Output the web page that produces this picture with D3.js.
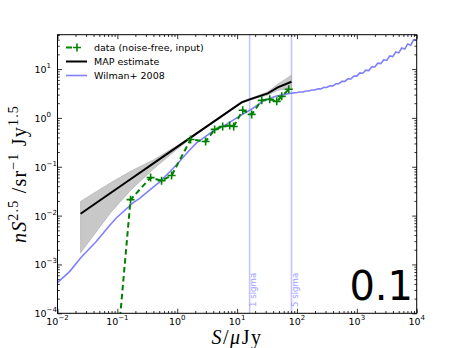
<!DOCTYPE html>
<html>
<head>
<meta charset="utf-8">
<script src="https://cdn.jsdelivr.net/npm/d3@7"></script>
<style>
body { margin: 0; background: #fff; }
svg { display: block; }
</style>
</head>
<body>
<script>
// values
var dataS = [0.095, 0.166, 0.359, 0.548, 0.805, 1.67, 2.98, 4.22, 5.74, 7.52, 8.77, 12.4, 17.5, 25.8, 35.1, 45.9, 55.7, 72.9];
var dataV = [1e-5, 0.0212, 0.060, 0.052, 0.066, 0.362, 0.329, 0.581, 0.668, 0.701, 0.668, 1.43, 1.18, 2.29, 2.40, 2.18, 2.76, 3.85];

var mapS = [0.0243, 0.077, 0.17, 0.4, 1.0, 2.0, 11.9, 16.3, 32.5, 47.8, 81];
var mapV = [0.0109, 0.029, 0.0567, 0.117, 0.255, 0.459, 2.08, 2.40, 3.18, 4.23, 5.5];
var mapLo = [0.00173, 0.0115, 0.034, 0.09, 0.23, 0.44, 2.0, 2.3, 2.95, 3.7, 4.0];
var mapHi = [0.0195, 0.047, 0.082, 0.138, 0.272, 0.475, 2.15, 2.5, 3.4, 4.9, 7.5];

var wilS = [0.01, 0.0159, 0.0249, 0.0444, 0.0741, 0.0959, 0.182, 0.235, 0.447, 0.508, 0.848, 1.10, 1.57, 2.08, 3.95, 6.62, 11.0, 17.3, 27.1, 45.4, 75.9,
  100, 112, 126, 141, 158, 178, 200, 224, 251, 282, 316, 355, 398, 447, 501, 562, 631, 708, 794, 891,
  1000, 1122, 1259, 1413, 1585, 1778, 1995, 2239, 2512, 2818, 3162, 3548, 3981, 4467, 5012, 5623, 6310, 7079, 7943, 8913, 10000];
var wilV = [4.25e-4, 7.14e-4, 1.41e-3, 2.95e-3, 6.3e-3, 8.93e-3, 0.0182, 0.0225, 0.043, 0.0485, 0.092, 0.130, 0.212, 0.304, 0.536, 0.736, 1.09, 1.50, 2.21, 2.80, 3.18,
  3.31, 3.40, 3.40, 3.56, 3.55, 3.73, 3.73, 3.95, 3.93, 4.22, 4.19, 4.54, 4.52, 5.00, 5.01, 5.61, 5.60, 6.31, 6.25, 7.18,
  7.16, 8.32, 8.20, 9.51, 9.33, 11.1, 11.0, 13.2, 12.9, 15.5, 15.0, 18.5, 18.0, 22.4, 21.4, 26.9, 25.7, 32.7, 30.9, 39.8, 38.9];

var sigmaS = [16.2, 81];
var sigmaLabels = ["1 sigma", "5 sigma"];

var xTickExp = [-2, -1, 0, 1, 2, 3, 4];
var yTickExp = [-4, -3, -2, -1, 0, 1];
var legendLabels = ["data (noise-free, input)", "MAP estimate", "Wilman+ 2008"];

var w = 463, h = 348;
var pL = 57.5, pR = 416.7, pT = 34.7, pB = 313.3;

var svg = d3.select("body").append("svg")
    .attr("width", w)
    .attr("height", h);

var x = d3.scaleLog().domain([1e-2, 1e4]).range([pL, pR]);
var y = d3.scaleLog().domain([1e-4, 50.5]).range([pB, pT]);

svg.append("clipPath").attr("id", "clip")
  .append("rect")
    .attr("x", pL).attr("y", pT)
    .attr("width", pR - pL).attr("height", pB - pT);

var plot = svg.append("g").attr("clip-path", "url(#clip)");

// sigma lines
plot.selectAll(".sig")
    .data(sigmaS)
    .enter()
    .append("line")
    .attr("x1", function(d){ return x(d); })
    .attr("x2", function(d){ return x(d); })
    .attr("y1", pT).attr("y2", pB)
    .style("stroke", "#c4c4ff")
    .style("stroke-width", 1.6);

svg.selectAll(".sigText")
    .data(sigmaS)
    .enter()
    .append("text")
    .attr("transform", function(d){ return "translate(" + (x(d) + 6.8) + "," + 307 + ") rotate(-90)"; })
    .style("font-family", "DejaVu Sans")
    .style("font-size", "8.6px")
    .style("fill", "#a0a0ff")
    .text(function(d, i){ return sigmaLabels[i]; });

// uncertainty band
var band = mapS.map(function(s, i){ return {s: s, lo: mapLo[i], hi: mapHi[i]}; });
plot.append("path")
    .datum(band)
    .attr("d", d3.area()
        .x(function(d){ return x(d.s); })
        .y0(function(d){ return y(d.lo); })
        .y1(function(d){ return y(d.hi); }))
    .style("fill", "#c8c8c8")
    .style("stroke", "#a8a8a8")
    .style("stroke-width", 0.6);

var line = d3.line()
    .x(function(d){ return x(d[0]); })
    .y(function(d){ return y(d[1]); });

// Wilman+ 2008
plot.append("path")
    .datum(d3.zip(wilS, wilV))
    .attr("d", line)
    .style("fill", "none")
    .style("stroke", "#8080ff")
    .style("stroke-width", 1.6);

// MAP estimate
plot.append("path")
    .datum(d3.zip(mapS, mapV))
    .attr("d", line)
    .style("fill", "none")
    .style("stroke", "#000")
    .style("stroke-width", 2);

// data
plot.append("path")
    .datum(d3.zip(dataS, dataV))
    .attr("d", line)
    .style("fill", "none")
    .style("stroke", "#008000")
    .style("stroke-width", 2)
    .style("stroke-dasharray", "5.5,3.5");

plot.selectAll(".pt")
    .data(d3.zip(dataS, dataV))
    .enter()
    .append("path")
    .attr("d", "M-4,0H4M0,-4V4")
    .attr("transform", function(d){ return "translate(" + x(d[0]) + "," + y(d[1]) + ")"; })
    .style("stroke", "#008000")
    .style("stroke-width", 1.6);

// axes: ticks inside on all four sides
function minors(lo, hi){
    var out = [];
    for (var e = lo; e < hi; e++) {
        for (var k = 2; k < 10; k++) out.push(k * Math.pow(10, e));
    }
    return out;
}
var xMaj = xTickExp.map(function(e){ return Math.pow(10, e); });
var yMaj = yTickExp.map(function(e){ return Math.pow(10, e); });
var xMin = minors(-2, 4);
var yMin = minors(-4, 2).filter(function(v){ return v <= 50.5; });

function addAxis(gen, tr, vals, size){
    svg.append("g")
        .attr("transform", tr)
        .call(gen.tickValues(vals).tickSize(size).tickFormat(""))
        .call(function(g){
            g.select(".domain").remove();
            g.selectAll("line").style("stroke", "#000").style("stroke-width", 0.8);
        });
}
addAxis(d3.axisBottom(x), "translate(0," + pB + ")", xMaj, -4.5);
addAxis(d3.axisBottom(x), "translate(0," + pB + ")", xMin, -2.3);
addAxis(d3.axisTop(x), "translate(0," + pT + ")", xMaj, -4.5);
addAxis(d3.axisTop(x), "translate(0," + pT + ")", xMin, -2.3);
addAxis(d3.axisLeft(y), "translate(" + pL + ",0)", yMaj, -4.5);
addAxis(d3.axisLeft(y), "translate(" + pL + ",0)", yMin, -2.3);
addAxis(d3.axisRight(y), "translate(" + pR + ",0)", yMaj, -4.5);
addAxis(d3.axisRight(y), "translate(" + pR + ",0)", yMin, -2.3);

svg.append("rect")
    .attr("x", pL).attr("y", pT)
    .attr("width", pR - pL).attr("height", pB - pT)
    .style("fill", "none")
    .style("stroke", "#000")
    .style("stroke-width", 1);

// tick labels
var xl = svg.selectAll(".xl")
    .data(xTickExp)
    .enter()
    .append("text")
    .attr("x", function(d){ return x(Math.pow(10, d)); })
    .attr("y", 325)
    .attr("text-anchor", "middle")
    .style("font-family", "DejaVu Sans")
    .style("font-size", "9.5px");
xl.append("tspan").text("10");
xl.append("tspan")
    .attr("dy", -5)
    .style("font-size", "7px")
    .text(function(d){ return String(d).replace("-", "\u2212"); });

var yl = svg.selectAll(".yl")
    .data(yTickExp)
    .enter()
    .append("text")
    .attr("x", 34.5)
    .attr("y", function(d){ return y(Math.pow(10, d)) + 4; })
    .style("font-family", "DejaVu Sans")
    .style("font-size", "9.5px");
yl.append("tspan").text("10");
yl.append("tspan")
    .attr("dy", -5)
    .style("font-size", "7px")
    .text(function(d){ return String(d).replace("-", "\u2212"); });

// axis titles
var xt = svg.append("text")
    .attr("x", 237)
    .attr("y", 344)
    .attr("text-anchor", "middle")
    .style("font-family", "Liberation Serif")
    .style("font-size", "20px")
    .style("letter-spacing", "1.5px");
xt.append("tspan").style("font-style", "italic").text("S");
xt.append("tspan").text("/");
xt.append("tspan").style("font-style", "italic").text("\u03bc");
xt.append("tspan").text("Jy");

var yt = svg.append("text")
    .attr("transform", "translate(26,174) rotate(-90)")
    .attr("text-anchor", "middle")
    .style("font-family", "Liberation Serif")
    .style("font-size", "20px")
    .style("letter-spacing", "1.2px");
yt.append("tspan").style("font-style", "italic").text("nS");
yt.append("tspan").attr("dy", -8).style("font-size", "14px").text("2.5");
yt.append("tspan").attr("dy", 8).text(" /sr");
yt.append("tspan").attr("dy", -8).style("font-size", "14px").text("\u22121");
yt.append("tspan").attr("dy", 8).text(" Jy");
yt.append("tspan").attr("dy", -8).style("font-size", "14px").text("1.5");

// big panel label
svg.append("text")
    .attr("x", 413)
    .attr("y", 299.5)
    .attr("text-anchor", "end")
    .style("font-family", "DejaVu Sans")
    .style("font-size", "40px")
    .text("0.1");

// legend
var leg = svg.append("g");
var ly = [47.5, 61.5, 75.5];
leg.append("line")
    .attr("x1", 66).attr("x2", 72).attr("y1", ly[0]).attr("y2", ly[0])
    .style("stroke", "#008000").style("stroke-width", 2);
leg.append("path")
    .attr("d", "M-4,0H4M0,-4V4")
    .attr("transform", "translate(77," + ly[0] + ")")
    .style("stroke", "#008000").style("stroke-width", 1.6);
leg.append("line")
    .attr("x1", 66).attr("x2", 87).attr("y1", ly[1]).attr("y2", ly[1])
    .style("stroke", "#000").style("stroke-width", 2);
leg.append("line")
    .attr("x1", 66).attr("x2", 87).attr("y1", ly[2]).attr("y2", ly[2])
    .style("stroke", "#8080ff").style("stroke-width", 1.6);
leg.selectAll(".lt")
    .data(legendLabels)
    .enter()
    .append("text")
    .attr("x", 94)
    .attr("y", function(d, i){ return ly[i] + 3.4; })
    .style("font-family", "DejaVu Sans")
    .style("font-size", "9.5px")
    .text(function(d){ return d; });
</script>
</body>
</html>
